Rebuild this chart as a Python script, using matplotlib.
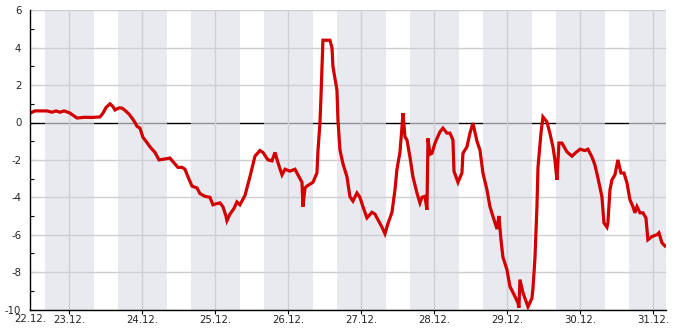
import matplotlib
matplotlib.use("Agg")
import matplotlib.pyplot as plt
import numpy as np

plt.rcParams['font.family'] = ['DejaVu Sans']
plt.rcParams['axes.unicode_minus'] = False

# time in days since 22.12. 00:00
t_days = [0.475, 0.530, 0.695, 0.763, 0.818, 0.873, 0.927, 0.982, 1.010, 1.064,
          1.105, 1.215, 1.311, 1.421, 1.462, 1.503, 1.558, 1.599, 1.626, 1.681,
          1.722, 1.763, 1.818, 1.859, 1.900, 1.927, 1.968, 2.010, 2.051, 2.105,
          2.174, 2.229, 2.311, 2.379, 2.421, 2.489, 2.544, 2.585, 2.626, 2.681,
          2.749, 2.790, 2.859, 2.927, 2.968, 3.010, 3.064, 3.105, 3.146, 3.160,
          3.201, 3.256, 3.297, 3.338, 3.407, 3.475, 3.544, 3.612, 3.653, 3.722,
          3.777, 3.818, 3.859, 3.914, 3.955, 4.023, 4.092, 4.133, 4.188, 4.201,
          4.229, 4.256, 4.297, 4.338, 4.393, 4.407, 4.434, 4.448, 4.462, 4.475,
          4.571, 4.599, 4.612, 4.667, 4.681, 4.708, 4.749, 4.804, 4.845, 4.886,
          4.941, 4.982, 5.023, 5.078, 5.147, 5.188, 5.229, 5.284, 5.325, 5.366,
          5.421, 5.462, 5.489, 5.530, 5.558, 5.571, 5.599, 5.626, 5.667, 5.708,
          5.763, 5.804, 5.832, 5.873, 5.900, 5.914, 5.941, 5.968, 6.010, 6.078,
          6.119, 6.174, 6.215, 6.256, 6.270, 6.325, 6.379, 6.393, 6.448, 6.489,
          6.530, 6.585, 6.626, 6.667, 6.722, 6.763, 6.832, 6.859, 6.886, 6.914,
          6.941, 6.996, 7.037, 7.105, 7.147, 7.160, 7.174, 7.215, 7.242, 7.284,
          7.338, 7.352, 7.379, 7.407, 7.421, 7.462, 7.489, 7.544, 7.584, 7.626,
          7.653, 7.681, 7.708, 7.749, 7.818, 7.886, 7.927, 7.996, 8.064, 8.105,
          8.160, 8.201, 8.242, 8.297, 8.325, 8.366, 8.379, 8.407, 8.434, 8.475,
          8.516, 8.558, 8.599, 8.640, 8.681, 8.722, 8.749, 8.777, 8.818, 8.859,
          8.900, 8.927, 8.982, 9.051, 9.078, 9.119, 9.160]

temperature = [0.52, 0.62, 0.62, 0.55, 0.62, 0.55, 0.62, 0.55, 0.5, 0.35,
               0.24, 0.28, 0.27, 0.3, 0.5, 0.8, 1.0, 0.85, 0.67, 0.78,
               0.77, 0.65, 0.45, 0.24, 0.0, -0.2, -0.3, -0.8, -1.0, -1.3,
               -1.6, -2.0, -1.95, -1.9, -2.1, -2.4, -2.4, -2.5, -2.9, -3.4,
               -3.5, -3.8, -3.95, -4.0, -4.4, -4.35, -4.3, -4.5, -5.0, -5.25,
               -4.9, -4.6, -4.25, -4.4, -3.9, -2.9, -1.8, -1.5, -1.6, -2.0,
               -2.05, -1.6, -2.15, -2.8, -2.5, -2.6, -2.5, -2.8, -3.2, -4.5,
               -3.5, -3.4, -3.3, -3.2, -2.7, -1.5, -0.03, 1.37, 2.97, 4.4,
               4.4, 4.0, 3.0, 1.73, 0.13, -1.47, -2.2, -2.9, -3.97, -4.2,
               -3.77, -4.0, -4.5, -5.1, -4.8, -4.9, -5.2, -5.6, -5.95, -5.4,
               -4.8, -3.6, -2.5, -1.6, -0.24, 0.5, -0.77, -0.93, -1.84, -2.9,
               -3.77, -4.3, -4.0, -3.95, -4.67, -0.85, -1.7, -1.65, -1.1, -0.5,
               -0.3, -0.57, -0.57, -0.93, -2.6, -3.2, -2.7, -1.65, -1.3, -0.57,
               -0.03, -1.0, -1.47, -2.7, -3.6, -4.5, -5.37, -5.7, -5.0, -6.27,
               -7.2, -7.87, -8.77, -9.3, -9.65, -9.9, -8.4, -9.1, -9.4, -9.85,
               -9.4, -8.9, -7.3, -4.5, -2.4, -0.57, 0.3, 0.03, -0.57, -1.3,
               -2.0, -3.07, -1.1, -1.1, -1.57, -1.8, -1.65, -1.43, -1.5, -1.43,
               -1.84, -2.27, -2.96, -3.97, -5.37, -5.6, -5.37, -3.6, -3.07, -2.8,
               -2.0, -2.7, -2.7, -3.23, -4.13, -4.5, -4.83, -4.5, -4.83, -4.83,
               -5.1, -6.27, -6.1, -6.0, -5.9, -6.43, -6.6]

day_ticks = [1, 2, 3, 4, 5, 6, 7, 8, 9]
day_labels = ["23.12.", "24.12.", "25.12.", "26.12.", "27.12.", "28.12.",
              "29.12.", "30.12.", "31.12."]
start_label = "22.12."
x_start, x_end = 0.466, 9.168
night_start, night_end = 0.667, 1.338   # 16:00 -> 08:05 next day
y_ticks = [-10, -8, -6, -4, -2, 0, 2, 4, 6]

fig = plt.figure(figsize=(6.85, 3.30), dpi=100)
ax = fig.add_axes([30.3 / 685, 20.5 / 330, 635.2 / 685, 299.2 / 330])

ax.set_xlim(x_start, x_end)
ax.set_ylim(-10, 6)

# zero line (under the night bands)
ax.axhline(0, color='black', lw=1.0, zorder=1)

# night bands
band_col = (221 / 255, 223 / 255, 232 / 255)
for k in range(0, 10):
    ax.axvspan(k + night_start - 1 + 1, k + night_end, color=band_col,
               alpha=0.65, lw=0, zorder=1.5)

# grid
for yv in y_ticks:
    if yv != 0:
        ax.axhline(yv, color='#cfcfd3', lw=1.0, zorder=2)
for xv in day_ticks:
    ax.axvline(xv, color='#cfcfd3', lw=1.0, zorder=2)

ax.plot(t_days, temperature, color='#d20000', lw=2.3, zorder=4,
        solid_joinstyle='miter')

for s in ['top', 'right']:
    ax.spines[s].set_visible(False)
for s in ['left', 'bottom']:
    ax.spines[s].set_color('black')
    ax.spines[s].set_linewidth(1.0)
    ax.spines[s].set_zorder(5)

ax.set_yticks(y_ticks)
ax.set_yticklabels([str(v) for v in y_ticks])
ax.set_yticks([-9, -7, -5, -3, -1, 1, 3, 5], minor=True)
ax.tick_params(axis='y', which='both', direction='in', length=3, width=0.8,
               color='black', pad=6.5, labelsize=7.3, labelcolor='#222222')
ax.set_xticks(day_ticks)
ax.set_xticklabels(day_labels)
ax.tick_params(axis='x', which='major', direction='out', length=3, width=0.8,
               color='black', pad=1.0, labelsize=7.3, labelcolor='#222222')

ax.text(x_start, -0.015, start_label, transform=ax.get_xaxis_transform(),
        ha='center', va='top', fontsize=7.3, color='#222222')

fig.savefig('out.png', dpi=100)
